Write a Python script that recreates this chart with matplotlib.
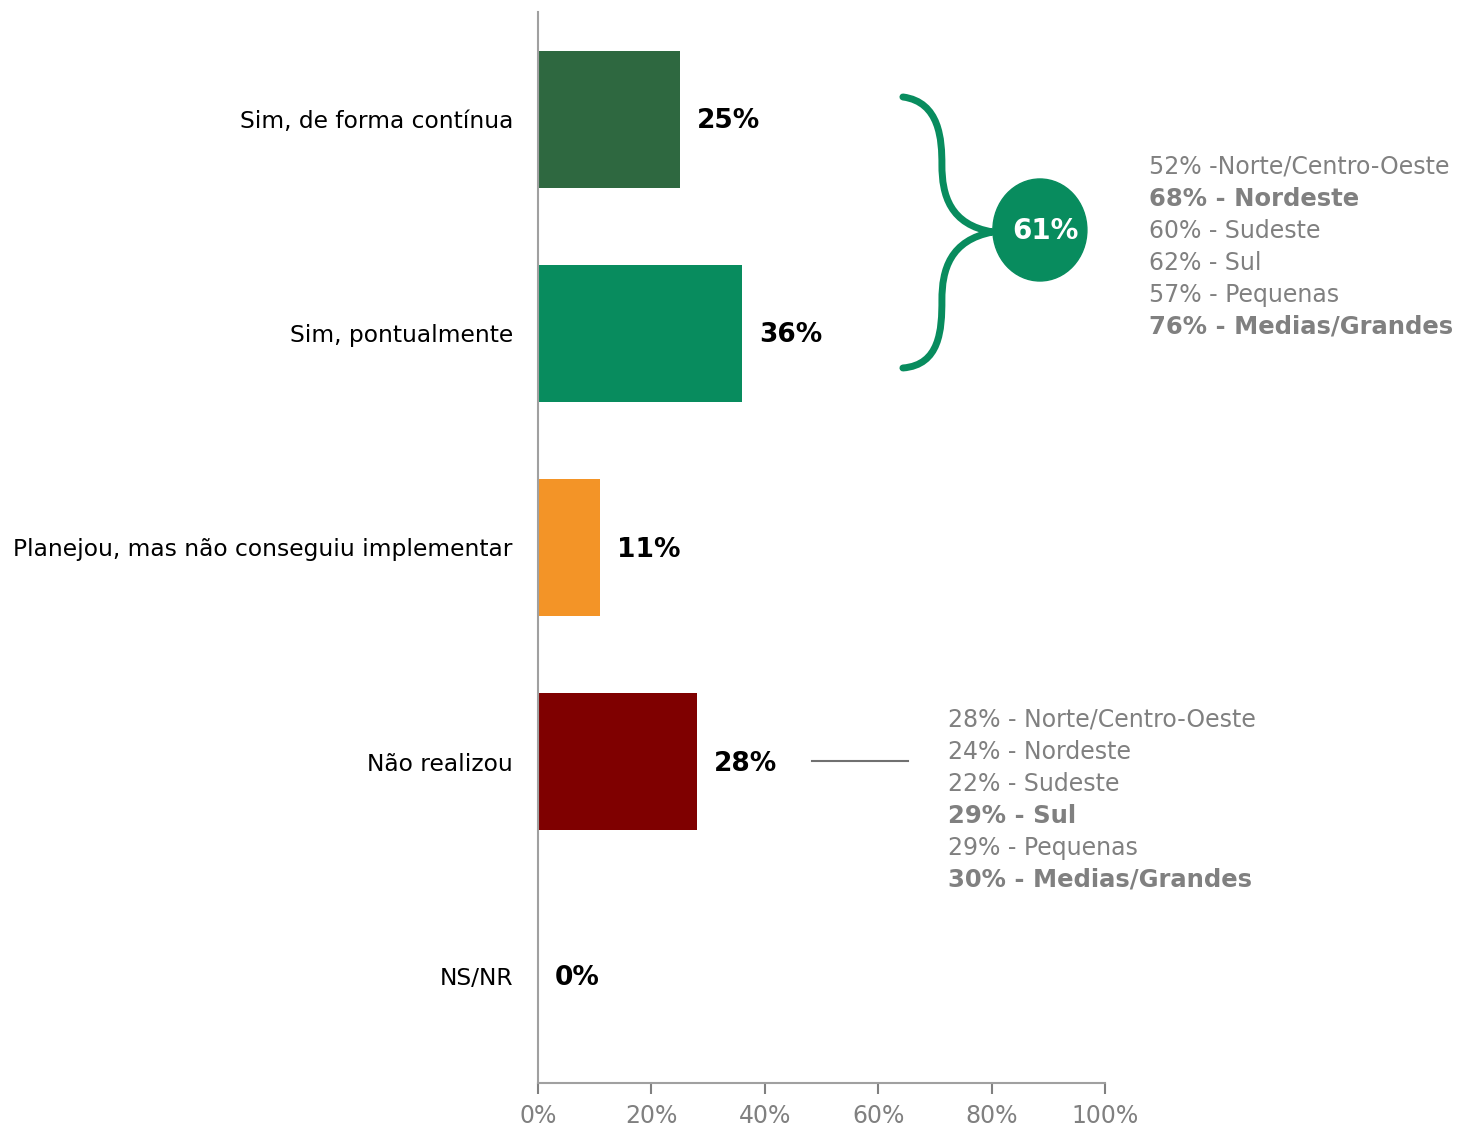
import matplotlib.pyplot as plt
from matplotlib.path import Path
from matplotlib.patches import PathPatch, Ellipse

plt.rcParams['font.family'] = ['DejaVu Sans']

categorias = ["Sim, de forma contínua", "Sim, pontualmente",
              "Planejou, mas não conseguiu implementar", "Não realizou", "NS/NR"]
valores = [25, 36, 11, 28, 0]
cores = ["#2E6840", "#088C5E", "#F39427", "#7F0000", "#7F0000"]

total_sim = "61%"
sim_linhas = ["52% -Norte/Centro-Oeste", "68% - Nordeste", "60% - Sudeste",
              "62% - Sul", "57% - Pequenas", "76% - Medias/Grandes"]
sim_negrito = [False, True, False, False, False, True]
nao_linhas = ["28% - Norte/Centro-Oeste", "24% - Nordeste", "22% - Sudeste",
              "29% - Sul", "29% - Pequenas", "30% - Medias/Grandes"]
nao_negrito = [False, False, False, True, False, True]

cinza = "#808080"
verde = "#088C5E"

fig = plt.figure(figsize=(14.65, 11.3), dpi=100)
ax = fig.add_axes([0.3672, 0.0416, 0.3870, 0.9478])

y = list(range(len(categorias)))
ax.barh(y, valores, height=0.64, color=cores)
ax.set_xlim(0, 100)
ax.set_ylim(4.5, -0.5)

for i, v in enumerate(valores):
    ax.text(v + 3, i + 0.01, f"{v}%", ha="left", va="center", fontsize=19, fontweight="bold", color="black")

ax.set_yticks(y)
ax.set_yticklabels(categorias, fontsize=16.8)
ax.tick_params(axis="y", length=0, pad=18)
ax.set_xticks(range(0, 101, 20))
ax.set_xticklabels([f"{t}%" for t in range(0, 101, 20)], fontsize=17, color=cinza)
ax.tick_params(axis="x", length=8, width=1.5, color=cinza, pad=7)
for s in ["top", "right"]:
    ax.spines[s].set_visible(False)
for s in ["left", "bottom"]:
    ax.spines[s].set_color("#A0A0A0")
    ax.spines[s].set_linewidth(1.5)


def py(p):
    # linha em pixels -> y em dados
    return -0.5 + (p - 12) / 214.2


def px(p):
    return (p - 538) / 5.67


# chave
verts = [(px(903), py(97)), (px(940), py(102)), (px(942), py(140)), (px(942), py(165)),
         (px(942), py(195)), (px(950), py(225)), (px(993), py(232)),
         (px(950), py(240)), (px(942), py(270)), (px(942), py(300)),
         (px(942), py(330)), (px(940), py(365)), (px(903), py(368))]
codes = [Path.MOVETO] + [Path.CURVE4] * 12
brace = PathPatch(Path(verts, codes), facecolor="none", edgecolor=verde, lw=5,
                  capstyle="round", clip_on=False)
ax.add_patch(brace)
ax.add_patch(Ellipse((px(1040), py(230)), width=94 / 5.67, height=102 / 214.2,
                     color=verde, clip_on=False, zorder=3))
ax.text(px(1046), py(231), total_sim, ha="center", va="center", fontsize=20,
        fontweight="bold", color="white", zorder=4)

for k, (t, b) in enumerate(zip(sim_linhas, sim_negrito)):
    ax.text(px(1149), py(167 + 32 * k), t, ha="left", va="center",
            fontsize=17.5 if b else 17, fontweight="bold" if b else "normal",
            color=cinza, clip_on=False)

ax.plot([px(812), px(908)], [py(761), py(761)], color="#707070", lw=1.5, clip_on=False)
for k, (t, b) in enumerate(zip(nao_linhas, nao_negrito)):
    ax.text(px(948), py(720 + 32 * k), t, ha="left", va="center",
            fontsize=17.5 if b else 17, fontweight="bold" if b else "normal",
            color=cinza, clip_on=False)

fig.savefig("out.png", dpi=100)
